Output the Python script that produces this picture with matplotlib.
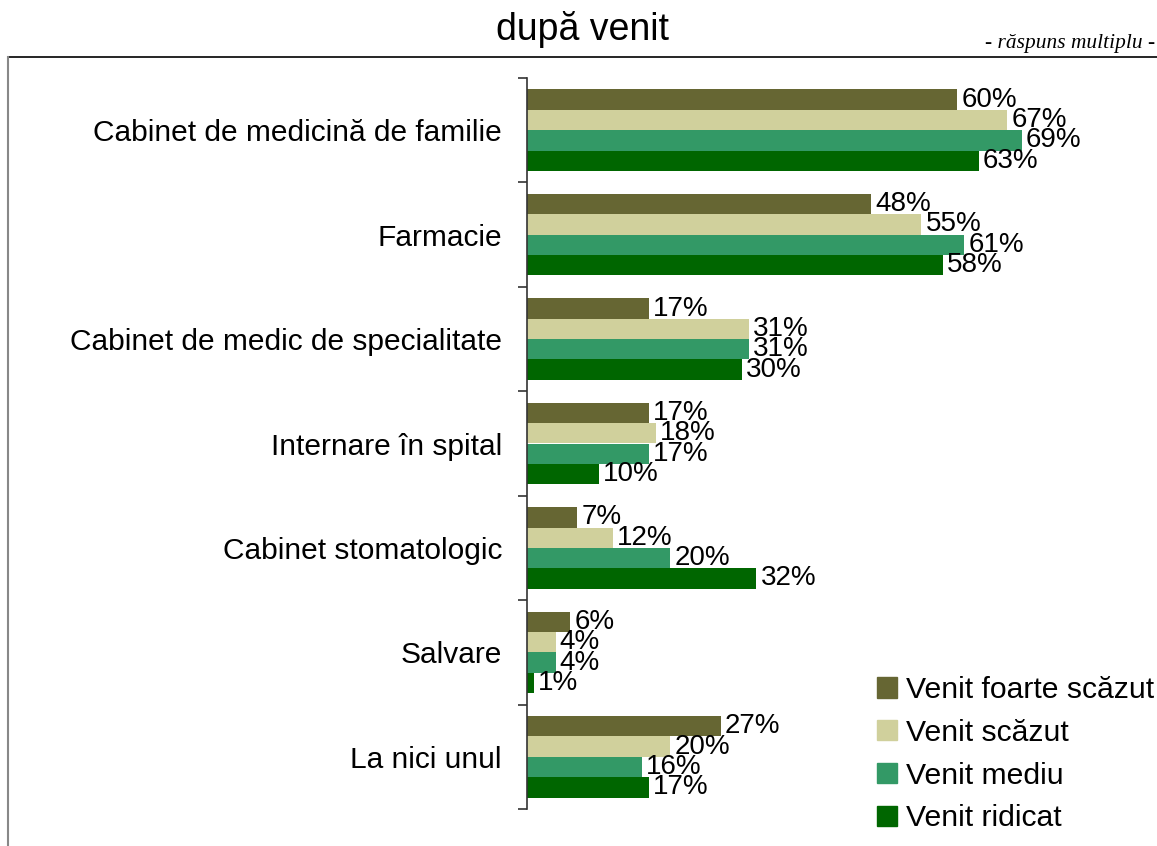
import numpy as np
import matplotlib.pyplot as plt
from matplotlib.patches import Patch
from matplotlib.lines import Line2D

categories = ['Cabinet de medicină de familie', 'Farmacie',
              'Cabinet de medic de specialitate', 'Internare în spital',
              'Cabinet stomatologic', 'Salvare', 'La nici unul']
series = ['Venit foarte scăzut', 'Venit scăzut', 'Venit mediu', 'Venit ridicat']
foarte_scazut = [60, 48, 17, 17, 7, 6, 27]
scazut = [67, 55, 31, 18, 12, 4, 20]
mediu = [69, 61, 31, 17, 20, 4, 16]
ridicat = [63, 58, 30, 10, 32, 1, 17]
colors = ['#666633', '#D0D09C', '#339966', '#006600']

plt.rcParams['font.family'] = ['Liberation Sans', 'DejaVu Sans']

fig = plt.figure(figsize=(11.57, 8.46), dpi=100)
ax = fig.add_axes([527/1157, 1-809/846, 1-527/1157, (809-78)/846])

y = np.arange(len(categories))
h = 0.195
data = [foarte_scazut, scazut, mediu, ridicat]
for i, (vals, c, name) in enumerate(zip(data, colors, series)):
    rects = ax.barh(y + (i - 1.5)*h, vals, h, color=c, label=name)
    ax.bar_label(rects, labels=[f'{v}%' for v in vals], padding=3, fontsize=20)

ax.set_xlim(0, 87.9)
ax.set_ylim(len(categories) - 0.5, -0.5)
ax.set_yticks(y, categories, fontsize=21.5)
ax.set_yticks(np.arange(len(categories) + 1) - 0.5, minor=True)
ax.tick_params(axis='y', which='major', length=0, pad=18)
ax.tick_params(axis='y', which='minor', length=6.5, width=1.2, color='#333333')
ax.set_xticks([])
for s in ['top', 'right', 'bottom']:
    ax.spines[s].set_visible(False)
ax.spines['left'].set_color('#333333')
ax.spines['left'].set_linewidth(1.2)

fig.text(582/1157, 1-30/846, 'după venit', ha='center', va='center', fontsize=27)
fig.text(1155/1157, 1-48/846, '- răspuns multiplu -', ha='right', va='baseline',
         fontsize=15.4, style='italic', family=['Liberation Serif', 'DejaVu Serif'])

fig.add_artist(Line2D([8/1157, 1], [1-57/846, 1-57/846], color='black', lw=1.2,
                      transform=fig.transFigure))
fig.add_artist(Line2D([8/1157, 8/1157], [0, 1-57/846], color='#888888', lw=1.5,
                      transform=fig.transFigure))

handles = [Patch(color=c) for c in colors]
fig.legend(handles, series, loc='upper left', bbox_to_anchor=(877/1157, 1-676/846),
           frameon=False, fontsize=21.7, handlelength=0.66, handleheight=0.66,
           handletextpad=0.3, labelspacing=0.49, borderpad=0, borderaxespad=0)

fig.savefig('out.png')
